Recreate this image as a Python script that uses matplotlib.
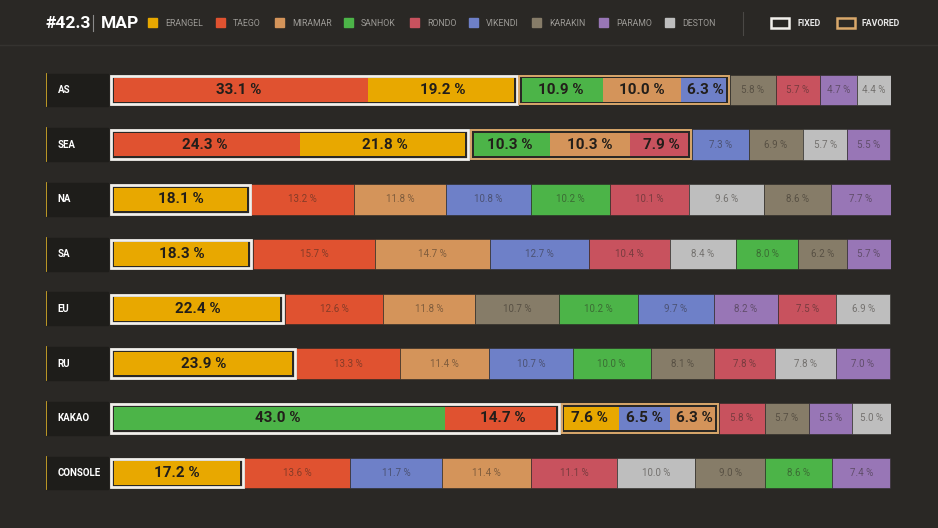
import numpy as np
import matplotlib.pyplot as plt
from matplotlib.patches import Rectangle

# data
regions = ['AS', 'SEA', 'NA', 'SA', 'EU', 'RU', 'KAKAO', 'CONSOLE']

map_names = ['ERANGEL', 'TAEGO', 'MIRAMAR', 'SANHOK', 'RONDO',
             'VIKENDI', 'KARAKIN', 'PARAMO', 'DESTON']
map_colors = ['#E8A800', '#E05230', '#D4945A', '#4CB448', '#C8525E',
              '#6E80C8', '#867C68', '#9876B6', '#BEBEBE']

row_maps = [
    ['TAEGO', 'ERANGEL', 'SANHOK', 'MIRAMAR', 'VIKENDI', 'KARAKIN', 'RONDO', 'PARAMO', 'DESTON'],
    ['TAEGO', 'ERANGEL', 'SANHOK', 'MIRAMAR', 'RONDO', 'VIKENDI', 'KARAKIN', 'DESTON', 'PARAMO'],
    ['ERANGEL', 'TAEGO', 'MIRAMAR', 'VIKENDI', 'SANHOK', 'RONDO', 'DESTON', 'KARAKIN', 'PARAMO'],
    ['ERANGEL', 'TAEGO', 'MIRAMAR', 'VIKENDI', 'RONDO', 'DESTON', 'SANHOK', 'KARAKIN', 'PARAMO'],
    ['ERANGEL', 'TAEGO', 'MIRAMAR', 'KARAKIN', 'SANHOK', 'VIKENDI', 'PARAMO', 'RONDO', 'DESTON'],
    ['ERANGEL', 'TAEGO', 'MIRAMAR', 'VIKENDI', 'SANHOK', 'KARAKIN', 'RONDO', 'DESTON', 'PARAMO'],
    ['SANHOK', 'TAEGO', 'ERANGEL', 'VIKENDI', 'MIRAMAR', 'RONDO', 'KARAKIN', 'PARAMO', 'DESTON'],
    ['ERANGEL', 'TAEGO', 'VIKENDI', 'MIRAMAR', 'RONDO', 'DESTON', 'KARAKIN', 'SANHOK', 'PARAMO'],
]
row_values = [
    [33.1, 19.2, 10.9, 10.0, 6.3, 5.8, 5.7, 4.7, 4.4],
    [24.3, 21.8, 10.3, 10.3, 7.9, 7.3, 6.9, 5.7, 5.5],
    [18.1, 13.2, 11.8, 10.8, 10.2, 10.1, 9.6, 8.6, 7.7],
    [18.3, 15.7, 14.7, 12.7, 10.4, 8.4, 8.0, 6.2, 5.7],
    [22.4, 12.6, 11.8, 10.7, 10.2, 9.7, 8.2, 7.5, 6.9],
    [23.9, 13.3, 11.4, 10.7, 10.0, 8.1, 7.8, 7.8, 7.0],
    [43.0, 14.7, 7.6, 6.5, 6.3, 5.8, 5.7, 5.5, 5.0],
    [17.2, 13.6, 11.7, 11.4, 11.1, 10.0, 9.0, 8.6, 7.4],
]
# leading segments that are fixed, then favored
fixed_n = [2, 2, 1, 1, 1, 1, 2, 1]
favored_n = [3, 3, 0, 0, 0, 0, 3, 0]

BG = '#2A2825'
FIXED_EC = '#F2F0EC'
FAV_EC = '#D9A86B'
FONT = ['Roboto', 'DejaVu Sans']
TXT = dict(family=FONT, stretch='condensed')

color_of = dict(zip(map_names, map_colors))

W, H = 938, 528
fig = plt.figure(figsize=(W / 100, H / 100), dpi=100)
fig.patch.set_facecolor(BG)

# header
hx = fig.add_axes([0, 0, 1, 1])
hx.set_xlim(0, W)
hx.set_ylim(H, 0)
hx.axis('off')
hx.plot([0, W], [45, 45], color='#353330', lw=1)
hx.text(46, 23, '#42.3', color='white', fontsize=12.5, fontweight='bold',
        va='center', ha='left', **TXT)
hx.plot([93, 93], [15, 31], color='#8a8a8a', lw=0.8)
hx.text(101, 23, 'MAP', color='white', fontsize=12.5, fontweight='bold',
        va='center', ha='left', **TXT)

leg_x = [148, 216, 275, 344, 410, 469, 532, 599, 665]
for x, name, c in zip(leg_x, map_names, map_colors):
    hx.add_patch(Rectangle((x, 18), 9, 9, color=c))
    hx.text(x + 17, 23, name, color='#9c9a96', fontsize=6.3,
            va='center', ha='left', **TXT)
hx.plot([743, 743], [12, 35], color='#4a4845', lw=0.8)
hx.add_patch(Rectangle((771, 17.5), 18, 10, fill=False, ec=FIXED_EC, lw=1.8))
hx.text(797, 23, 'FIXED', color='#e8e8e8', fontsize=6.3, fontweight='bold',
        va='center', ha='left', **TXT)
hx.add_patch(Rectangle((837, 17.5), 18, 10, fill=False, ec=FAV_EC, lw=1.8))
hx.text(862, 23, 'FAVORED', color='#e8e8e8', fontsize=6.3, fontweight='bold',
        va='center', ha='left', **TXT)

# bars
ax = fig.add_axes([46 / W, 1 - 500.35 / H, 845 / W, 437.7 / H])
ax.set_xlim(-8.2, 100.1)
ax.set_ylim(len(regions) - 0.5, -0.5)
ax.axis('off')

h = 0.56
for i, (region, maps, vals) in enumerate(zip(regions, row_maps, row_values)):
    vals = np.array(vals)
    lefts = np.concatenate([[0], np.cumsum(vals)[:-1]])

    # region label box
    ax.add_patch(Rectangle((-8.2, i - h / 2 - 0.02), 7.95, h + 0.04,
                           color='#1E1D1A', zorder=1))
    ax.plot([-8.15, -8.15], [i - h / 2 - 0.02, i + h / 2 + 0.02],
            color='#C9A227', lw=1.3, zorder=2)
    ax.text(-6.7, i, region, color='white', fontsize=7, fontweight='bold',
            va='center', ha='left', zorder=3, **TXT)

    nf, nv = fixed_n[i], favored_n[i]
    groups = []
    if nf:
        groups.append((0, nf, FIXED_EC, 2.0))
    if nv:
        groups.append((nf, nf + nv, FAV_EC, 1.4))

    n_hl = nf + nv
    for j in range(n_hl, len(vals)):
        ax.barh(i, vals[j], left=lefts[j], height=h, color=color_of[maps[j]],
                edgecolor='#2A2825', linewidth=0.4, zorder=2)
        ax.text(lefts[j] + vals[j] / 2, i, f'{vals[j]:.1f} %',
                color='#2a2520', alpha=0.5, fontsize=7,
                va='center', ha='center', zorder=4, **TXT)

    for g0, g1, ec, lw in groups:
        a = lefts[g0]
        b = lefts[g1 - 1] + vals[g1 - 1]
        ax.add_patch(Rectangle((a + 0.18, i - h / 2 + 0.02), b - a - 0.36, h - 0.04,
                               fill=False, ec=ec, lw=lw, zorder=3))
        for j in range(g0, g1):
            l2 = max(lefts[j], a + 0.55)
            r2 = min(lefts[j] + vals[j], b - 0.55)
            ax.barh(i, r2 - l2, left=l2, height=h - 0.13,
                    color=color_of[maps[j]], linewidth=0, zorder=2)
            ax.text(lefts[j] + vals[j] / 2, i, f'{vals[j]:.1f} %',
                    color='#221e1a', fontsize=11, fontweight='bold',
                    va='center', ha='center', zorder=4, **TXT)

fig.savefig('out.png', dpi=100, facecolor=BG)
